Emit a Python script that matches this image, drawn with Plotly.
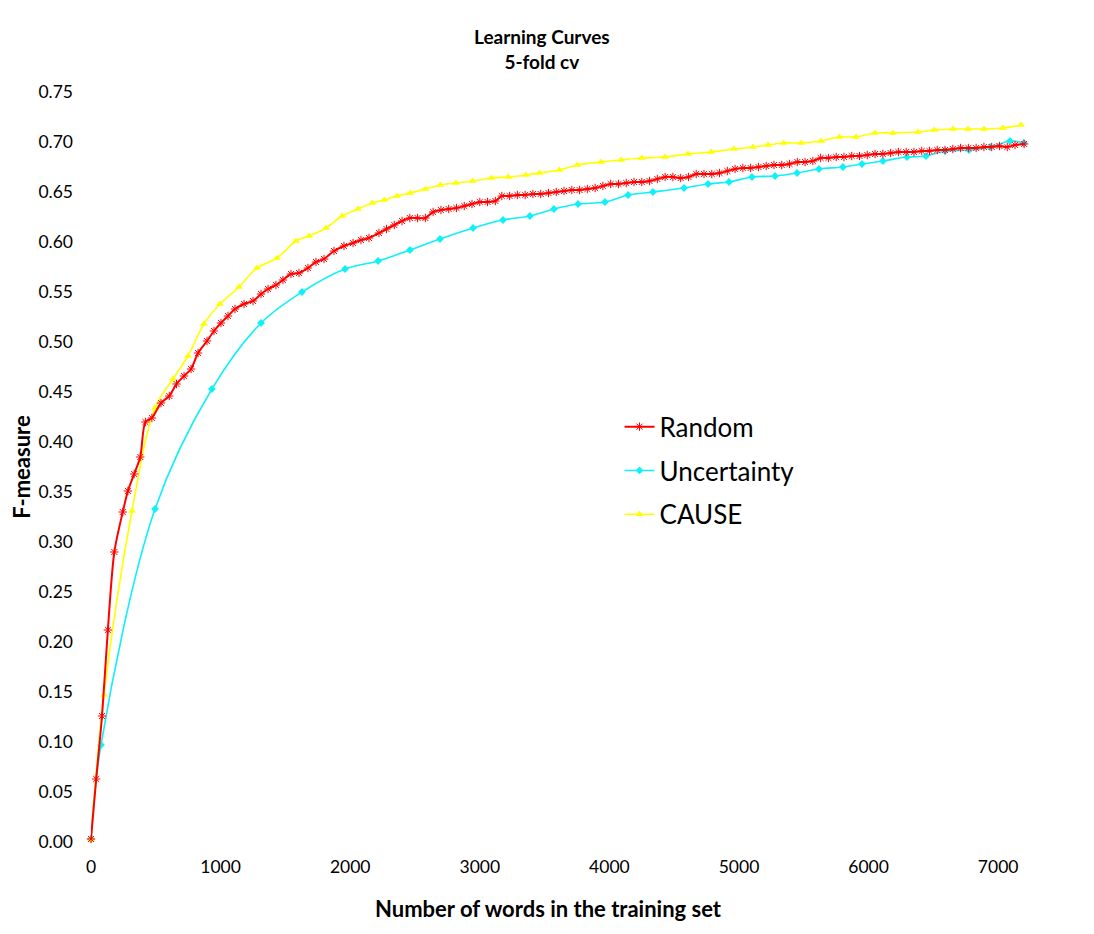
import plotly.graph_objects as go

# ---- data ----
random_x = [0, 40, 85, 130, 180, 245, 285, 333, 380, 420, 470, 540, 604, 660, 718, 772, 826, 895, 949, 1003,
            1057, 1111, 1181, 1250, 1312, 1366, 1427, 1481, 1543, 1605, 1674, 1736, 1798, 1875, 1952, 2022, 2083,
            2145, 2222, 2280, 2340, 2400, 2460, 2520, 2580, 2640, 2700, 2760, 2820, 2880, 2940, 3000, 3060, 3120,
            3170, 3230, 3290, 3350, 3410, 3470, 3530, 3590, 3650, 3710, 3770, 3830, 3890, 3950, 4010, 4070, 4130,
            4190, 4250, 4310, 4370, 4430, 4490, 4550, 4610, 4670, 4730, 4790, 4850, 4910, 4970, 5030, 5090, 5150,
            5210, 5270, 5330, 5390, 5450, 5510, 5570, 5630, 5690, 5750, 5810, 5870, 5930, 5990, 6050, 6110, 6170,
            6230, 6290, 6350, 6410, 6470, 6530, 6590, 6650, 6710, 6770, 6830, 6890, 6950, 7010, 7070, 7130, 7200]
random_y = [0.003, 0.063, 0.126, 0.212, 0.290, 0.330, 0.351, 0.368, 0.385, 0.420, 0.424, 0.439, 0.446, 0.458,
            0.466, 0.473, 0.489, 0.501, 0.511, 0.519, 0.526, 0.533, 0.538, 0.541, 0.548, 0.553, 0.557, 0.562,
            0.568, 0.569, 0.574, 0.580, 0.583, 0.591, 0.596, 0.599, 0.602, 0.604, 0.609, 0.613, 0.617, 0.621,
            0.624, 0.624, 0.624, 0.630, 0.632, 0.633, 0.634, 0.636, 0.638, 0.640, 0.640, 0.641, 0.646, 0.646,
            0.647, 0.647, 0.648, 0.648, 0.649, 0.650, 0.651, 0.652, 0.652, 0.653, 0.654, 0.656, 0.658, 0.658,
            0.659, 0.660, 0.660, 0.661, 0.663, 0.665, 0.665, 0.664, 0.665, 0.668, 0.668, 0.668, 0.669, 0.671,
            0.673, 0.674, 0.674, 0.675, 0.676, 0.677, 0.677, 0.678, 0.680, 0.680, 0.681, 0.684, 0.684, 0.685,
            0.685, 0.686, 0.686, 0.687, 0.688, 0.688, 0.689, 0.690, 0.690, 0.690, 0.691, 0.691, 0.692, 0.692,
            0.693, 0.694, 0.694, 0.694, 0.695, 0.695, 0.696, 0.695, 0.697, 0.698]

uncert_x = [0, 77, 494, 933, 1312, 1628, 1960, 2215, 2461, 2693, 2948, 3179, 3387, 3572, 3758, 3966, 4144,
            4336, 4576, 4761, 4923, 5100, 5278, 5448, 5617, 5802, 5949, 6111, 6296, 6443, 6590, 6775, 6937,
            7091, 7199]
uncert_y = [0.003, 0.097, 0.333, 0.453, 0.519, 0.550, 0.573, 0.581, 0.592, 0.603, 0.614, 0.622, 0.626, 0.633,
            0.638, 0.640, 0.647, 0.650, 0.654, 0.658, 0.660, 0.665, 0.666, 0.669, 0.673, 0.675, 0.678, 0.681,
            0.685, 0.686, 0.691, 0.692, 0.695, 0.701, 0.699]

cause_x = [0, 100, 316, 494, 633, 748, 872, 995, 1142, 1281, 1435, 1582, 1682, 1813, 1937, 2060, 2170, 2263,
           2361, 2463, 2580, 2695, 2815, 2945, 3090, 3220, 3356, 3460, 3614, 3753, 3935, 4090, 4249, 4429, 4606,
           4784, 4961, 5108, 5224, 5345, 5480, 5633, 5774, 5903, 6049, 6188, 6381, 6507, 6651, 6767, 6890, 7037,
           7176]
cause_y = [0.002, 0.147, 0.331, 0.434, 0.463, 0.486, 0.518, 0.538, 0.555, 0.574, 0.584, 0.601, 0.606, 0.614,
           0.626, 0.633, 0.639, 0.642, 0.646, 0.649, 0.653, 0.657, 0.659, 0.661, 0.664, 0.665, 0.667, 0.669,
           0.672, 0.677, 0.680, 0.682, 0.684, 0.685, 0.688, 0.690, 0.693, 0.695, 0.697, 0.699, 0.699, 0.701,
           0.705, 0.705, 0.709, 0.709, 0.710, 0.712, 0.713, 0.713, 0.713, 0.714, 0.717]

series_names = ["Random", "Uncertainty", "CAUSE"]
y_ticks = [0.00, 0.05, 0.10, 0.15, 0.20, 0.25, 0.30, 0.35, 0.40, 0.45, 0.50, 0.55, 0.60, 0.65, 0.70, 0.75]
x_ticks = [0, 1000, 2000, 3000, 4000, 5000, 6000, 7000]

FONT = "Lato, 'Open Sans', sans-serif"
CYAN = "#10F0F8"

fig = go.Figure()
fig.add_trace(go.Scatter(
    x=uncert_x, y=uncert_y, name=series_names[1], mode="lines+markers",
    line=dict(color=CYAN, width=1.6, shape="spline", smoothing=1),
    marker=dict(symbol="diamond", size=6, color=CYAN),
    cliponaxis=False, legendgroup="b", legendrank=2))
fig.add_trace(go.Scatter(
    x=cause_x, y=cause_y, name=series_names[2], mode="lines+markers",
    line=dict(color="#FFFF00", width=1.6, shape="spline", smoothing=1),
    marker=dict(symbol="triangle-up", size=7, color="#FFFF00"),
    cliponaxis=False, legendgroup="c", legendrank=3))
fig.add_trace(go.Scatter(
    x=random_x, y=random_y, name=series_names[0], mode="lines+markers",
    line=dict(color="#FF0000", width=2, shape="spline", smoothing=0.8),
    marker=dict(symbol="asterisk-open", size=7, color="#FF0000",
                line=dict(color="#FF3A1A", width=1)),
    cliponaxis=False, legendgroup="a", legendrank=1))

fig.update_layout(
    width=1094, height=934,
    paper_bgcolor="white", plot_bgcolor="white",
    margin=dict(l=83, r=10, t=84, b=100, autoexpand=False),
    font=dict(family=FONT, color="black"),
    title=dict(text="<b>Learning Curves<br>5-fold cv</b>", x=0.488, xanchor="center",
               y=0.961, yanchor="top", font=dict(size=19, family=FONT)),
    showlegend=True,
    legend=dict(x=0.528, y=0.585, xanchor="left", yanchor="top",
                font=dict(size=26, family=FONT), tracegroupgap=7,
                traceorder="grouped", bgcolor="rgba(0,0,0,0)", itemwidth=30),
    xaxis=dict(range=[0, 7724], tickvals=x_ticks, ticktext=[str(v) for v in x_ticks],
               showgrid=False, zeroline=False, showline=False, ticks="", automargin=False,
               tickfont=dict(size=17.5, family=FONT), ticklabelstandoff=12),
    yaxis=dict(range=[0, 0.75], tickvals=y_ticks, ticktext=[f"{v:.2f}" for v in y_ticks],
               showgrid=False, zeroline=False, showline=False, ticks="", automargin=False,
               tickfont=dict(size=17.5, family=FONT), ticklabelstandoff=17,
               title=dict(text="<b>F-measure</b>", font=dict(size=22, family=FONT), standoff=1)),
    annotations=[dict(text="<b>Number of words in the training set</b>", xref="paper", yref="paper",
                      x=0.4575, y=-0.088, xanchor="center", yanchor="middle", showarrow=False,
                      font=dict(size=22, family=FONT))],
)

fig.write_html("out.html")
